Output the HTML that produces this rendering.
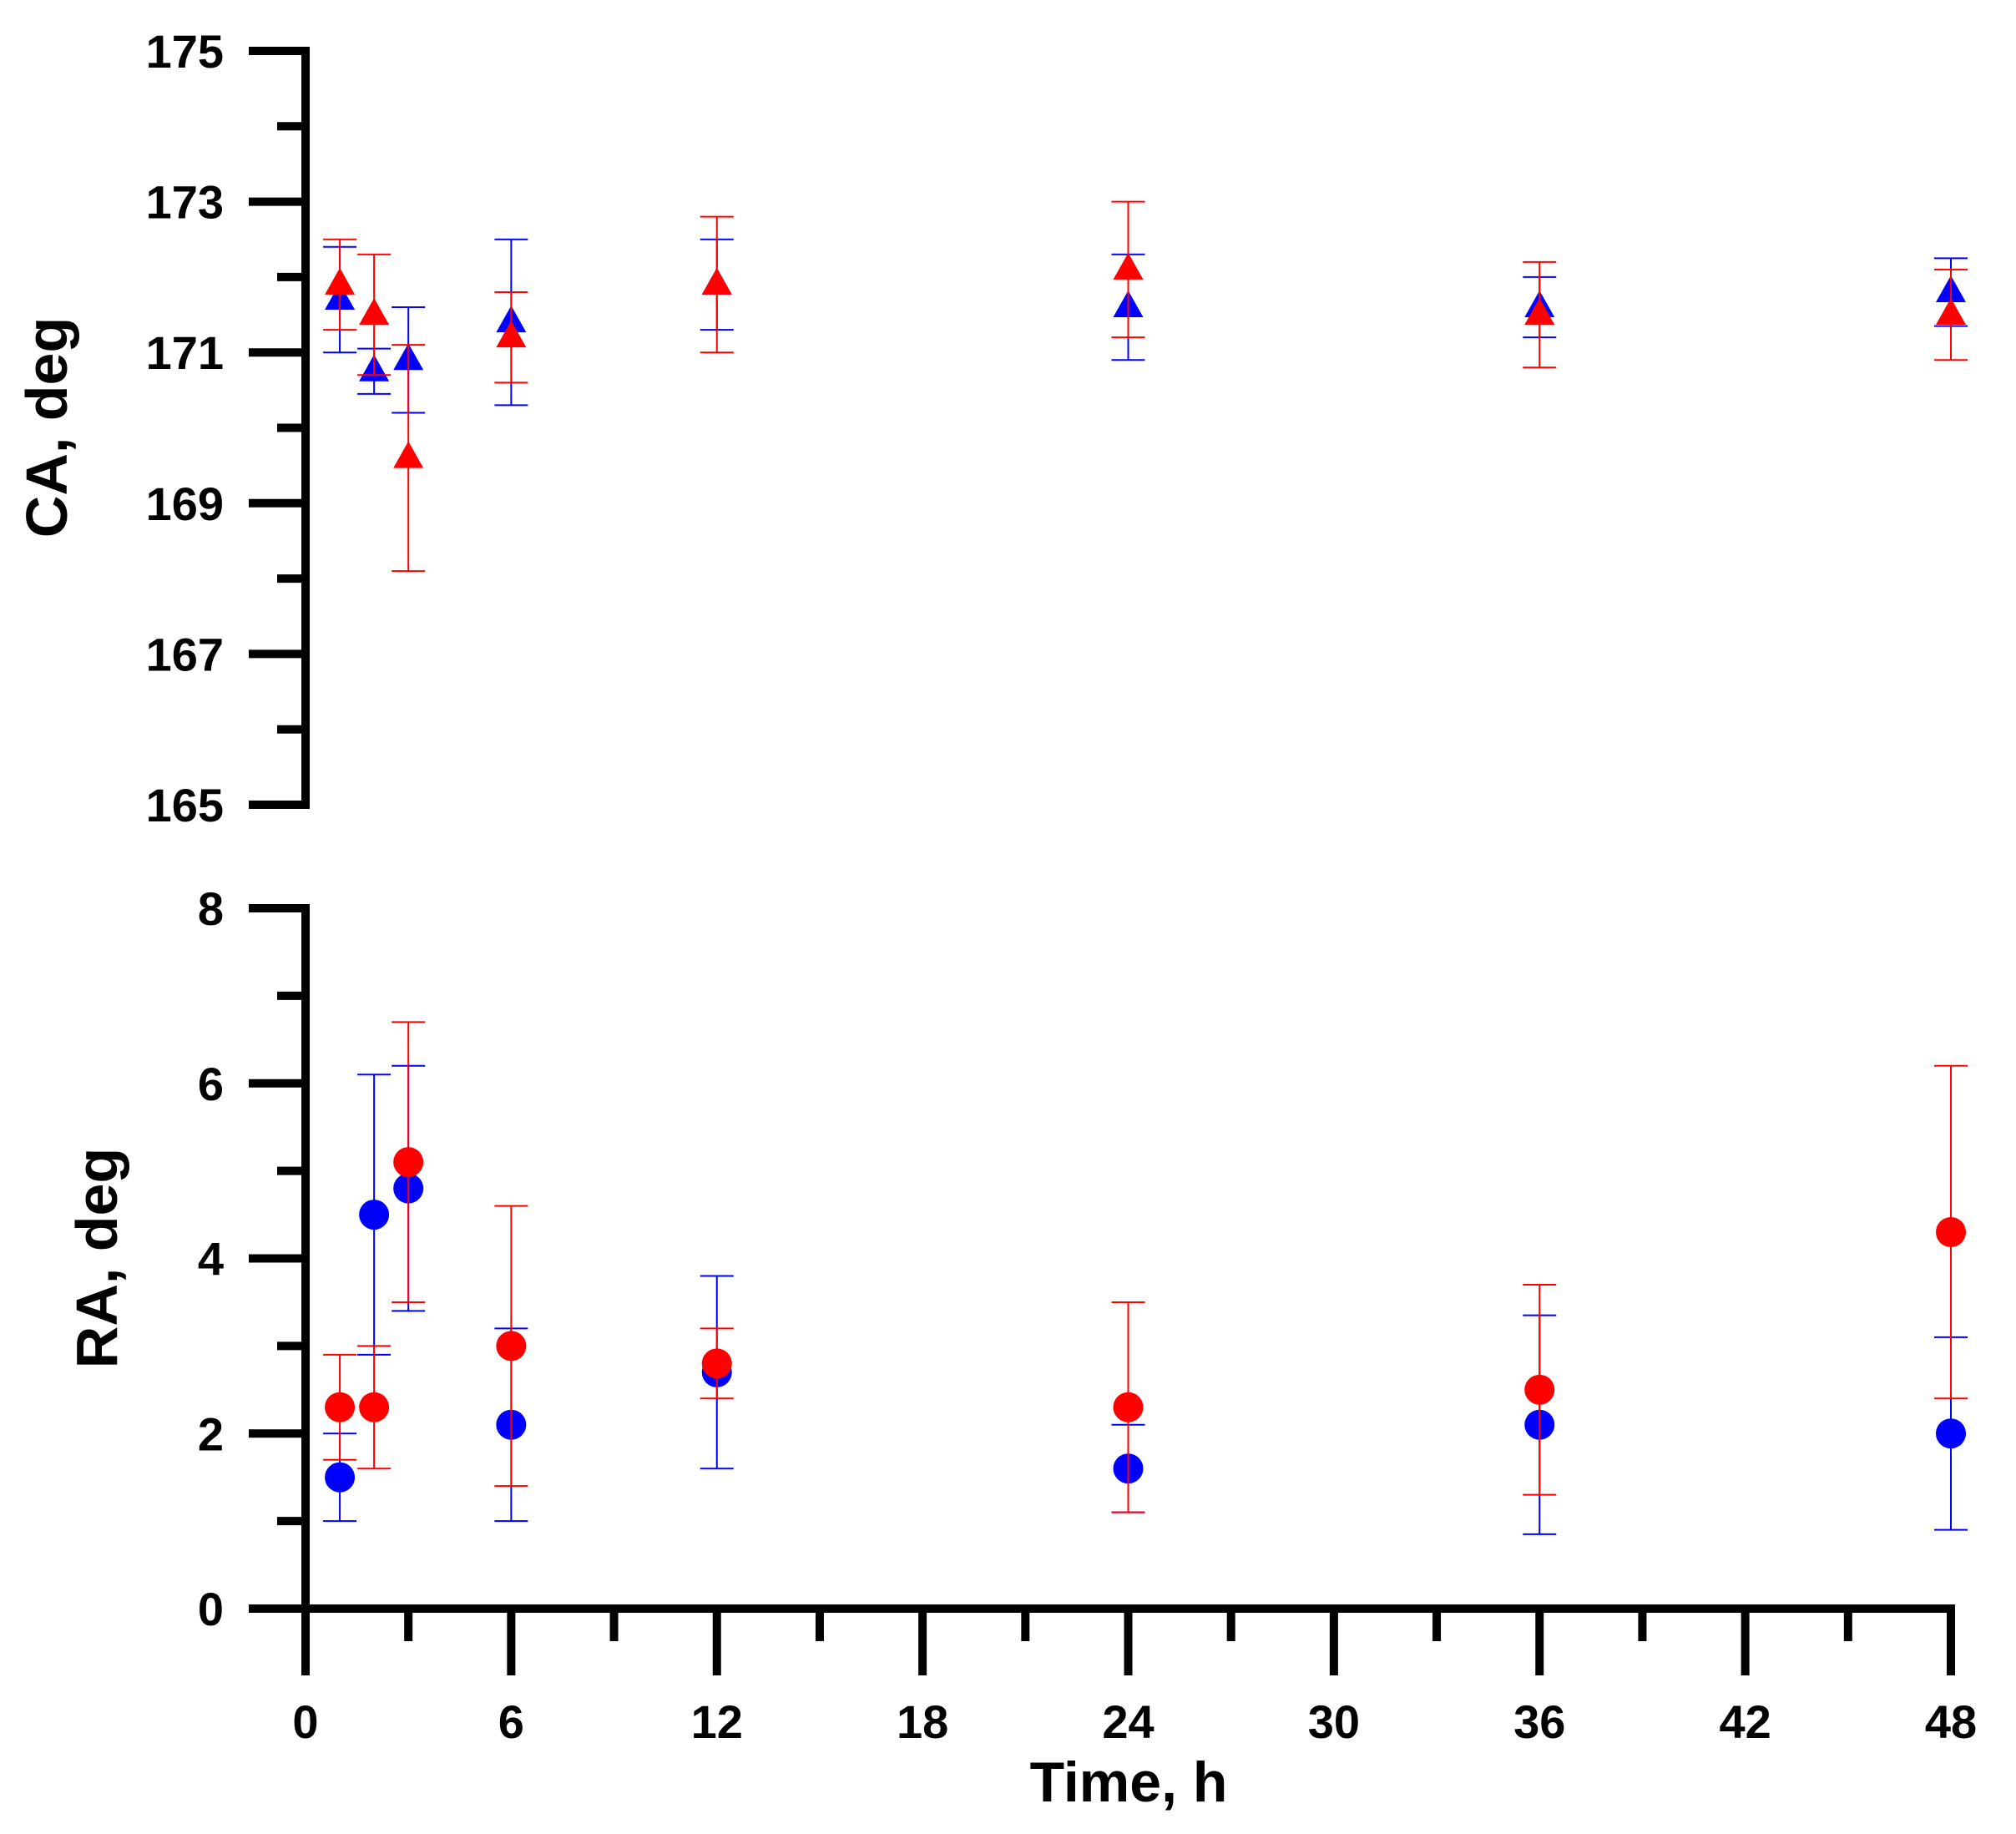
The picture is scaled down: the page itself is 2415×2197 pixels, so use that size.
<!DOCTYPE html>
<html><head><meta charset="utf-8"><style>
html,body{margin:0;padding:0;background:#fff;}
svg{display:block;}
text{font-family:"Liberation Sans",Arial,sans-serif;font-weight:bold;fill:#000;}
</style></head><body>
<svg id="chart" width="2415" height="2197" viewBox="0 0 2415 2197" xmlns="http://www.w3.org/2000/svg">
<g id="axes"></g>
<g id="marks"></g>
<text x="0" y="0" font-size="70" text-anchor="middle" transform="translate(80,512) rotate(-90)">CA, deg</text>
<text x="0" y="0" font-size="70" text-anchor="middle" transform="translate(140,1507) rotate(-90)">RA, deg</text>
<text x="1352" y="2158" font-size="68" text-anchor="middle">Time, h</text>
</svg>
<script>
const times = [1, 2, 3, 6, 12, 24, 36, 48];
const caBlue = [171.7, 170.75, 170.9, 171.4, 171.9, 171.6, 171.6, 171.8];
const caBlueLo = [171.0, 170.45, 170.2, 170.3, 171.3, 170.9, 171.2, 171.35];
const caBlueHi = [172.4, 171.05, 171.6, 172.5, 172.5, 172.3, 172.0, 172.25];
const caRed = [171.9, 171.5, 169.6, 171.2, 171.9, 172.1, 171.5, 171.5];
const caRedLo = [171.3, 170.7, 168.1, 170.6, 171.0, 171.2, 170.8, 170.9];
const caRedHi = [172.5, 172.3, 171.1, 171.8, 172.8, 173.0, 172.2, 172.1];
const raBlue = [1.5, 4.5, 4.8, 2.1, 2.7, 1.6, 2.1, 2.0];
const raBlueLo = [1.0, 2.9, 3.4, 1.0, 1.6, 1.1, 0.85, 0.9];
const raBlueHi = [2.0, 6.1, 6.2, 3.2, 3.8, 2.1, 3.35, 3.1];
const raRed = [2.3, 2.3, 5.1, 3.0, 2.8, 2.3, 2.5, 4.3];
const raRedLo = [1.7, 1.6, 3.5, 1.4, 2.4, 1.1, 1.3, 2.4];
const raRedHi = [2.9, 3.0, 6.7, 4.6, 3.2, 3.5, 3.7, 6.2];
const caTicks = [165, 167, 169, 171, 173, 175];
const caMinor = [166, 168, 170, 172, 174];
const raTicks = [0, 2, 4, 6, 8];
const raMinor = [1, 3, 5, 7];
const xTicks = [0, 6, 12, 18, 24, 30, 36, 42, 48];
const xMinor = [3, 9, 15, 21, 27, 33, 39, 45];

const NS = "http://www.w3.org/2000/svg";
const X0 = 366, X1 = 2337;
const xs = t => X0 + (t - 0) / 48 * (X1 - X0);
const yCA = v => 964 + (v - 165) / 10 * (61 - 964);
const yRA = v => 1927 + (v - 0) / 8 * (1088 - 1927);
const axes = document.getElementById('axes');
const marks = document.getElementById('marks');
function el(tag, attrs, parent) {
  const e = document.createElementNS(NS, tag);
  for (const k in attrs) e.setAttribute(k, attrs[k]);
  parent.appendChild(e);
  return e;
}
function line(x1, y1, x2, y2, w, c, parent, name) {
  const l = el('line', {x1, y1, x2, y2, stroke: c, 'stroke-width': w}, parent);
  
  
  return l;
}
line(X0, 61 - 5, X0, 964 + 5, 10, '#000', axes, 'ca-y-axis-line');
caTicks.forEach(v => {
  line(298, yCA(v), X0, yCA(v), 10, '#000', axes, 'ca-y-major-tick');
  const t = el('text', {x: 268, y: yCA(v) + 20, 'font-size': 56, 'text-anchor': 'end'}, axes);
  
  
  t.textContent = v;
});
caMinor.forEach(v => {
  line(332, yCA(v), X0, yCA(v), 10, '#000', axes, 'ca-y-minor-tick');
});
line(X0, 1088 - 5, X0, 1927 + 5, 10, '#000', axes, 'ra-y-axis-line');
line(298, 1927, X1 + 5, 1927, 10, '#000', axes, 'x-axis-line');
raTicks.forEach(v => {
  line(298, yRA(v), X0, yRA(v), 10, '#000', axes, 'ra-y-major-tick');
  const t = el('text', {x: 268, y: yRA(v) + 20, 'font-size': 56, 'text-anchor': 'end'}, axes);
  
  
  t.textContent = v;
});
raMinor.forEach(v => {
  line(332, yRA(v), X0, yRA(v), 10, '#000', axes, 'ra-y-minor-tick');
});
xTicks.forEach(v => {
  line(xs(v), 1927, xs(v), 2007, 10, '#000', axes, 'x-major-tick');
  const t = el('text', {x: xs(v), y: 2082, 'font-size': 56, 'text-anchor': 'middle'}, axes);
  
  
  t.textContent = v;
});
xMinor.forEach(v => {
  line(xs(v), 1927, xs(v), 1966, 10, '#000', axes, 'x-minor-tick');
});
function errbar(x, ylo, yhi, c, name) {
  line(x, ylo, x, yhi, 2, c, marks, name);
  line(x - 20, ylo, x + 20, ylo, 2, c, marks, name + '-cap');
  line(x - 20, yhi, x + 20, yhi, 2, c, marks, name + '-cap');
}
function triSeries(vals, lo, hi, c, name) {
  times.forEach((t, i) => {
    const x = xs(t), y = yCA(vals[i]);
    errbar(x, yCA(lo[i]), yCA(hi[i]), c, name + '-error-bar');
    const p = el('polygon', {points: `${x - 18},${y + 12} ${x + 18},${y + 12} ${x},${y - 20}`, fill: c}, marks);
    
    
  });
}
function circSeries(vals, lo, hi, c, name) {
  times.forEach((t, i) => {
    const x = xs(t), y = yRA(vals[i]);
    errbar(x, yRA(lo[i]), yRA(hi[i]), c, name + '-error-bar');
    const p = el('circle', {cx: x, cy: y, r: 18, fill: c}, marks);
    
    
  });
}
triSeries(caBlue, caBlueLo, caBlueHi, '#0000ff', 'ca-blue');
triSeries(caRed, caRedLo, caRedHi, '#ff0000', 'ca-red');
circSeries(raBlue, raBlueLo, raBlueHi, '#0000ff', 'ra-blue');
circSeries(raRed, raRedLo, raRedHi, '#ff0000', 'ra-red');
</script>
</body></html>
